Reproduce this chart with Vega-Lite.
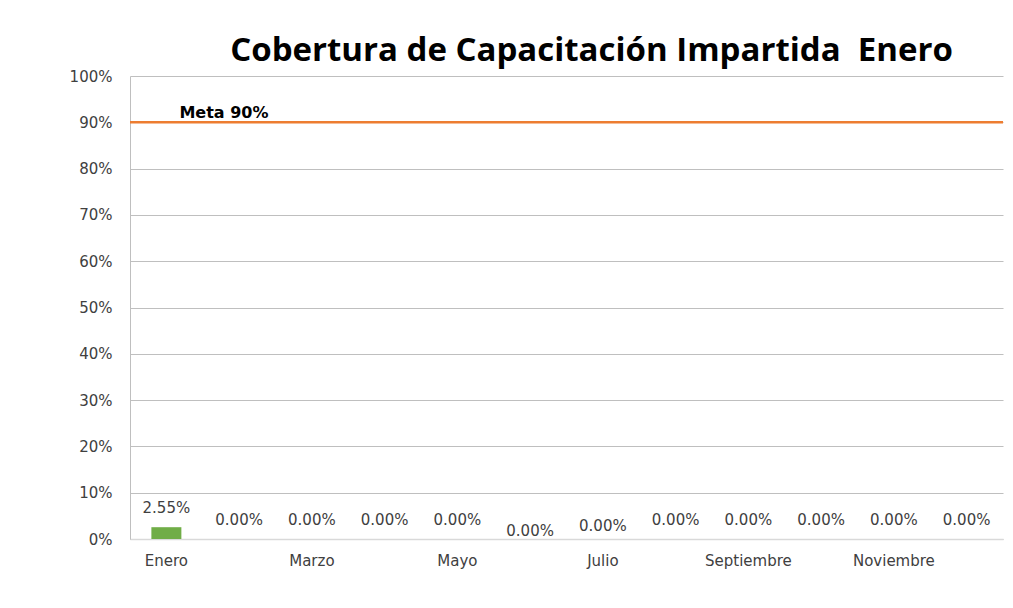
{
  "$schema": "https://vega.github.io/schema/vega-lite/v6.json",
  "autosize": {"type": "none"},
  "padding": {"left": 130, "top": 76, "right": 10, "bottom": 69},
  "width": 873,
  "height": 463,
  "background": "white",
  "config": {"view": {"stroke": null}, "font": "DejaVu Sans"},
  "title": {
    "text": "Cobertura de Capacitación Impartida\u00a0 Enero",
    "font": "Open Sans",
    "fontSize": 33,
    "fontWeight": "bold",
    "color": "#000000",
    "anchor": "middle",
    "dx": 25,
    "offset": 1
  },
  "datasets": {
    "months": [
      {"mes": "Enero", "valor": 0.0255, "etiqueta": "2.55%"},
      {"mes": "Febrero", "valor": 0, "etiqueta": "0.00%"},
      {"mes": "Marzo", "valor": 0, "etiqueta": "0.00%"},
      {"mes": "Abril", "valor": 0, "etiqueta": "0.00%"},
      {"mes": "Mayo", "valor": 0, "etiqueta": "0.00%"},
      {"mes": "Junio", "valor": 0, "etiqueta": "0.00%"},
      {"mes": "Julio", "valor": 0, "etiqueta": "0.00%"},
      {"mes": "Agosto", "valor": 0, "etiqueta": "0.00%"},
      {"mes": "Septiembre", "valor": 0, "etiqueta": "0.00%"},
      {"mes": "Octubre", "valor": 0, "etiqueta": "0.00%"},
      {"mes": "Noviembre", "valor": 0, "etiqueta": "0.00%"},
      {"mes": "Diciembre", "valor": 0, "etiqueta": "0.00%"}
    ],
    "meta": [{"mes": "Enero", "valor": 0.9, "etiqueta": "Meta 90%"}]
  },
  "layer": [
    {
      "data": {"name": "months"},
      "mark": {"type": "bar", "color": "#70ad47", "width": 30},
      "encoding": {
        "x": {
          "field": "mes", "type": "nominal", "sort": null,
          "scale": {"paddingInner": 0, "paddingOuter": 0},
          "axis": {
            "title": null,
            "values": ["Enero", "Marzo", "Mayo", "Julio", "Septiembre", "Noviembre"],
            "labelAngle": 0,
            "labelFont": "DejaVu Sans",
            "labelFontSize": 15,
            "labelColor": "#404040",
            "labelPadding": 14,
            "ticks": false,
            "domain": true,
            "domainColor": "#d9d9d9",
            "domainWidth": 1.5,
            "grid": false
          }
        },
        "y": {
          "field": "valor", "type": "quantitative",
          "scale": {"domain": [0, 1], "nice": false},
          "axis": {
            "title": null,
            "format": ".0%",
            "values": [0, 0.1, 0.2, 0.3, 0.4, 0.5, 0.6, 0.7, 0.8, 0.9, 1],
            "labelFont": "DejaVu Sans",
            "labelFontSize": 15,
            "labelColor": "#404040",
            "labelPadding": 18,
            "ticks": false,
            "domain": true,
            "domainColor": "#bfbfbf",
            "grid": true,
            "gridColor": "#bfbfbf",
            "gridWidth": 1
          }
        }
      }
    },
    {
      "data": {"name": "months"},
      "transform": [{"filter": "datum.mes != 'Junio' && datum.mes != 'Julio'"}],
      "mark": {"type": "text", "baseline": "bottom", "dy": -11, "fontSize": 15, "color": "#404040", "font": "DejaVu Sans"},
      "encoding": {
        "x": {"field": "mes", "type": "nominal", "sort": null},
        "y": {"field": "valor", "type": "quantitative"},
        "text": {"field": "etiqueta"}
      }
    },
    {
      "data": {"name": "months"},
      "transform": [{"filter": "datum.mes == 'Junio'"}],
      "mark": {"type": "text", "baseline": "bottom", "dy": 0, "fontSize": 15, "color": "#404040", "font": "DejaVu Sans"},
      "encoding": {
        "x": {"field": "mes", "type": "nominal", "sort": null},
        "y": {"field": "valor", "type": "quantitative"},
        "text": {"field": "etiqueta"}
      }
    },
    {
      "data": {"name": "months"},
      "transform": [{"filter": "datum.mes == 'Julio'"}],
      "mark": {"type": "text", "baseline": "bottom", "dy": -5, "fontSize": 15, "color": "#404040", "font": "DejaVu Sans"},
      "encoding": {
        "x": {"field": "mes", "type": "nominal", "sort": null},
        "y": {"field": "valor", "type": "quantitative"},
        "text": {"field": "etiqueta"}
      }
    },
    {
      "data": {"name": "meta"},
      "mark": {"type": "rule", "color": "#ed7d31", "strokeWidth": 2.5},
      "encoding": {
        "y": {"field": "valor", "type": "quantitative"}
      }
    },
    {
      "data": {"name": "meta"},
      "mark": {"type": "text", "align": "left", "baseline": "bottom", "dx": 13, "dy": -1, "fontSize": 16, "fontWeight": "bold", "color": "#000000", "font": "DejaVu Sans"},
      "encoding": {
        "x": {"field": "mes", "type": "nominal", "sort": null},
        "y": {"field": "valor", "type": "quantitative"},
        "text": {"field": "etiqueta"}
      }
    }
  ]
}
